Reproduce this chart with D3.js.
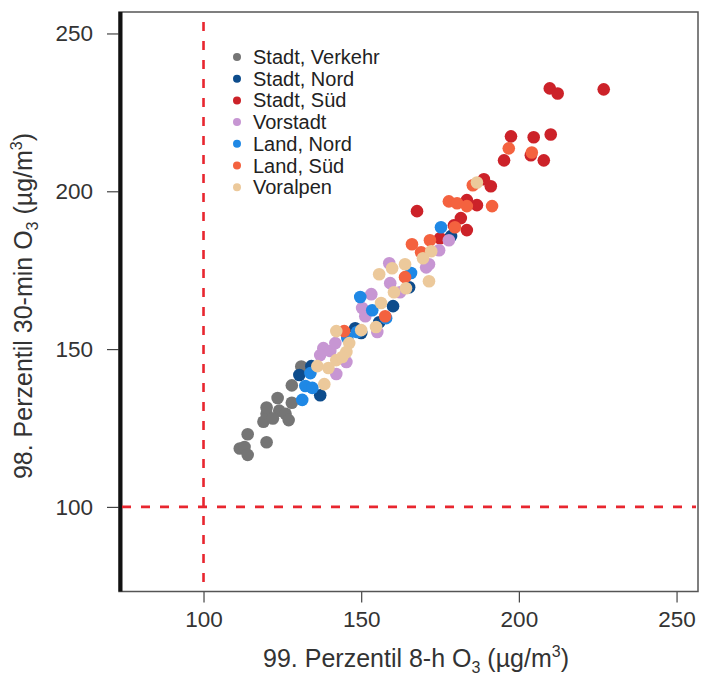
<!DOCTYPE html>
<html>
<head>
<meta charset="utf-8">
<script src="https://cdn.jsdelivr.net/npm/d3@7"></script>
<style>
  html, body { margin: 0; padding: 0; background: #fff; }
  svg { display: block; font-family: "Liberation Sans", Arial, sans-serif; }
</style>
</head>
<body>
<svg id="chart" width="701" height="675"></svg>
<script>
// Station groups, in legend order
const categories = ["Stadt, Verkehr", "Stadt, Nord", "Stadt, Süd", "Vorstadt", "Land, Nord", "Land, Süd", "Voralpen"];
const colors = ["#757575", "#0d4c8c", "#cc2229", "#c796d3", "#1f88e5", "#f4623f", "#ecc99b"];

// 99th percentile 8-h O3 (x) and 98th percentile 30-min O3 (y), µg/m³
const stadtVerkehrX = [111.5, 113, 114, 114, 120, 119, 120, 120, 123.5, 124, 126, 127, 128, 131, 128, 122];
const stadtVerkehrY = [118.5, 119, 123, 116.5, 120.5, 127, 129.5, 131.5, 134.5, 130.5, 129.5, 127.5, 133, 144.5, 138.5, 128];

const stadtNordX = [130.4, 134.2, 137, 148.1, 150, 155.7, 160.1, 165.2, 178.5];
const stadtNordY = [141.8, 144.6, 135.4, 156.6, 155.1, 158.5, 163.6, 169.6, 185.8];

const stadtSuedX = [167.7, 197.5, 204.7, 210.1, 195.3, 203.8, 207.9, 188.9, 191.1, 183.5, 186.7, 181.6, 183.5, 175, 209.8, 212.3, 226.9, 179.4];
const stadtSuedY = [193.7, 217.4, 217.1, 218, 209.8, 211.4, 209.8, 203.8, 201.6, 197.2, 195.6, 191.5, 187.7, 185.1, 232.6, 231, 232.3, 189.2];

const vorstadtX = [138, 140.2, 141.8, 142.1, 145.3, 150.3, 151.3, 153.2, 155.1, 158.9, 159.2, 162.3, 170.6, 174.7, 177.8, 171.5, 137];
const vorstadtY = [150.3, 149.4, 151.9, 142.1, 145.9, 163, 160.4, 167.4, 155.4, 177.2, 170.9, 168, 175.9, 181.3, 184.5, 176.9, 148.1];

const landNordX = [131.3, 132.3, 134.5, 133.9, 148.7, 149.7, 153.5, 157.9, 165.8, 175.3, 145.6];
const landNordY = [133.9, 138.3, 137.7, 142.4, 155.4, 166.5, 162.3, 159.8, 174.1, 188.6, 153.5];

const landSuedX = [144.6, 157.6, 163.9, 166.1, 169, 171.8, 177.8, 180.4, 183.5, 185.4, 191.5, 196.8, 204.1, 179.7];
const landSuedY = [155.7, 160.4, 172.8, 183.2, 180.7, 184.5, 196.8, 196.2, 195.3, 201.9, 195.3, 213.6, 212.3, 188.6];

const voralpenX = [142.1, 146.2, 145.3, 142.1, 136.1, 139.6, 138.3, 144, 154.7, 156.3, 160.4, 164.2, 155.7, 159.8, 163.9, 171.5, 169.6, 172.2, 186.7, 150];
const voralpenY = [155.7, 151.9, 149.1, 146.5, 144.6, 144, 138.9, 147.5, 157, 164.6, 168, 169.3, 173.7, 175.6, 176.9, 171.5, 178.8, 181, 202.8, 156];

const xTicks = [100, 150, 200, 250];
const yTicks = [100, 150, 200, 250];
const limitValue = 100;

const seriesX = [stadtVerkehrX, stadtNordX, stadtSuedX, vorstadtX, landNordX, landSuedX, voralpenX];
const seriesY = [stadtVerkehrY, stadtNordY, stadtSuedY, vorstadtY, landNordY, landSuedY, voralpenY];

const svg = d3.select("#chart");
const plotLeft = 119, plotRight = 698, plotTop = 12, plotBottom = 591.5;

const x = d3.scaleLinear().domain([73.2, 256.8]).range([plotLeft, plotRight]);
const y = d3.scaleLinear().domain([73.2, 256.8]).range([plotBottom, plotTop]);

// Axes
const xAxis = svg.append("g")
  .attr("transform", `translate(0,${plotBottom})`)
  .call(d3.axisBottom(x).tickValues(xTicks).tickSize(11).tickPadding(9).tickFormat(d3.format("d")));
const yAxis = svg.append("g")
  .attr("transform", `translate(${plotLeft},0)`)
  .call(d3.axisLeft(y).tickValues(yTicks).tickSize(12).tickPadding(14).tickFormat(d3.format("d")));
[xAxis, yAxis].forEach(g => {
  g.select(".domain").remove();
  g.selectAll(".tick line").attr("stroke", "#444").attr("stroke-width", 1.2);
  g.selectAll(".tick text").attr("fill", "#333").style("font-size", "22.5px")
    .style("font-family", "'Liberation Sans', Arial, sans-serif");
});

// Frame: thin grey box with a heavy left edge
svg.append("rect")
  .attr("x", plotLeft).attr("y", plotTop)
  .attr("width", plotRight - plotLeft).attr("height", plotBottom - plotTop)
  .attr("fill", "none").attr("stroke", "#555").attr("stroke-width", 1.5);
svg.append("line")
  .attr("x1", plotLeft + 1.5).attr("x2", plotLeft + 1.5)
  .attr("y1", plotTop).attr("y2", plotBottom)
  .attr("stroke", "#111").attr("stroke-width", 4);

// Reference lines at 100 µg/m³
svg.append("line")
  .attr("x1", x(limitValue)).attr("x2", x(limitValue))
  .attr("y1", plotTop).attr("y2", plotBottom)
  .attr("stroke", "#e8262f").attr("stroke-width", 2.6)
  .attr("stroke-dasharray", "9,10").attr("stroke-dashoffset", 9);
svg.append("line")
  .attr("x1", plotLeft + 3).attr("x2", plotRight - 2)
  .attr("y1", y(limitValue)).attr("y2", y(limitValue))
  .attr("stroke", "#e8262f").attr("stroke-width", 2.6)
  .attr("stroke-dasharray", "9,10");

// Points
const points = svg.append("g");
categories.forEach((cat, i) => {
  const data = d3.zip(seriesX[i], seriesY[i]);
  points.append("g").selectAll("circle")
    .data(data).join("circle")
    .attr("cx", d => x(d[0])).attr("cy", d => y(d[1]))
    .attr("r", 6.3)
    .attr("fill", colors[i]);
});

// Legend
const legend = svg.append("g").attr("transform", "translate(237,57)");
categories.forEach((cat, i) => {
  const row = legend.append("g").attr("transform", `translate(0,${i * 21.7})`);
  row.append("circle").attr("r", 4).attr("fill", colors[i]);
  row.append("text").attr("x", 16).attr("dy", "0.35em")
    .attr("fill", "#222").style("font-size", "20px").text(cat);
});

// Axis titles with subscript and superscript 3
function title(sel, head) {
  sel.append("tspan").text(head + "O");
  sel.append("tspan").attr("dy", 6).style("font-size", "16px").text("3");
  sel.append("tspan").attr("dy", -6).text(" (µg/m");
  sel.append("tspan").attr("dy", -10).style("font-size", "16px").text("3");
  sel.append("tspan").attr("dy", 10).text(")");
}
const xt = svg.append("text")
  .attr("x", 416).attr("y", 667).attr("text-anchor", "middle")
  .attr("fill", "#333").style("font-size", "25px");
title(xt, "99. Perzentil 8-h ");
const yt = svg.append("text")
  .attr("transform", "translate(32,306) rotate(-90)").attr("text-anchor", "middle")
  .attr("fill", "#333").style("font-size", "25px");
title(yt, "98. Perzentil 30-min ");
</script>
</body>
</html>
